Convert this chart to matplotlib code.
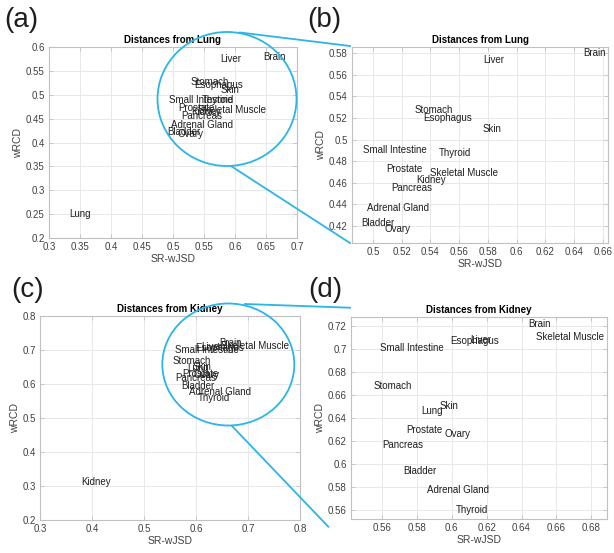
import numpy as np
import matplotlib
matplotlib.use('Agg')
import matplotlib.pyplot as plt
from matplotlib.patches import Ellipse
from matplotlib.lines import Line2D
from matplotlib.ticker import FormatStrFormatter

plt.rcParams['font.family'] = ['Liberation Sans', 'DejaVu Sans']

# distances from Lung
lung_tissues = ['Brain', 'Liver', 'Stomach', 'Esophagus', 'Skin', 'Small Intestine',
                'Thyroid', 'Prostate', 'Skeletal Muscle', 'Kidney', 'Pancreas',
                'Adrenal Gland', 'Bladder', 'Ovary', 'Lung']
lung_jsd = [0.646, 0.577, 0.529, 0.535, 0.576, 0.493, 0.546, 0.509, 0.540, 0.530,
            0.5125, 0.496, 0.4915, 0.508, 0.332]
lung_rcd = [0.580, 0.574, 0.527, 0.520, 0.510, 0.490, 0.488, 0.473, 0.469, 0.463,
            0.455, 0.437, 0.423, 0.417, 0.250]

# distances from Kidney
kid_tissues = ['Brain', 'Skeletal Muscle', 'Esophagus', 'Liver', 'Small Intestine',
               'Stomach', 'Skin', 'Lung', 'Prostate', 'Ovary', 'Pancreas', 'Bladder',
               'Adrenal Gland', 'Thyroid', 'Kidney']
kid_jsd = [0.644, 0.648, 0.599, 0.6105, 0.559, 0.555, 0.593, 0.5825, 0.574, 0.596,
           0.560, 0.572, 0.586, 0.6025, 0.380]
kid_rcd = [0.7215, 0.7105, 0.707, 0.708, 0.701, 0.668, 0.650, 0.646, 0.629, 0.626,
           0.6165, 0.594, 0.5775, 0.560, 0.312]

W, H = 614, 553
fig = plt.figure(figsize=(W / 100, H / 100), dpi=100)


def px_axes(left, top, right, bottom):
    return fig.add_axes([left / W, 1 - bottom / H, (right - left) / W, (bottom - top) / H])


def style(ax, title, xlim, ylim, xticks, yticks):
    ax.set_xlim(xlim)
    ax.set_ylim(ylim)
    ax.set_xticks(xticks)
    ax.set_yticks(yticks)
    ax.xaxis.set_major_formatter(FormatStrFormatter('%g'))
    ax.yaxis.set_major_formatter(FormatStrFormatter('%g'))
    ax.grid(True, color='#e8e8e8', lw=0.7)
    ax.set_axisbelow(True)
    for s in ax.spines.values():
        s.set_color('#c0c0c0')
        s.set_linewidth(0.8)
    ax.tick_params(direction='in', length=3, width=0.6, color='#c0c0c0',
                   labelsize=7, labelcolor='#404040', pad=3, top=True, right=True)
    ax.set_title(title, fontsize=7, fontweight='bold', pad=3)
    ax.set_xlabel('SR-wJSD', fontsize=7.5, color='#404040', labelpad=1)
    ax.set_ylabel('wRCD', fontsize=7.5, color='#404040', labelpad=2)


def labels(ax, names, xs, ys):
    # only the tissues that fall inside the (zoomed) view
    x0, x1 = ax.get_xlim()
    y0, y1 = ax.get_ylim()
    for n, x, y in zip(names, xs, ys):
        if x0 <= x <= x1 and y0 <= y <= y1:
            ax.text(x, y, n, fontsize=7, ha='left', va='center', color='#1e1e1e')


ax_a = px_axes(49, 47, 297, 238)
style(ax_a, 'Distances from Lung', (0.3, 0.7), (0.2, 0.6),
      np.arange(0.3, 0.701, 0.05), np.arange(0.2, 0.601, 0.05))
labels(ax_a, lung_tissues, lung_jsd, lung_rcd)

ax_b = px_axes(352, 47, 608, 243)
style(ax_b, 'Distances from Lung', (0.4854, 0.6635), (0.4043, 0.5856),
      np.arange(0.5, 0.661, 0.02), np.arange(0.42, 0.581, 0.02))
labels(ax_b, lung_tissues, lung_jsd, lung_rcd)

ax_c = px_axes(40, 316, 300, 520)
style(ax_c, 'Distances from Kidney', (0.3, 0.8), (0.2, 0.8),
      np.arange(0.3, 0.801, 0.1), np.arange(0.2, 0.801, 0.1))
labels(ax_c, kid_tissues, kid_jsd, kid_rcd)

ax_d = px_axes(351, 317, 607, 519)
style(ax_d, 'Distances from Kidney', (0.5422, 0.689), (0.5519, 0.7278),
      np.arange(0.56, 0.681, 0.02), np.arange(0.56, 0.721, 0.02))
labels(ax_d, kid_tissues, kid_jsd, kid_rcd)

# zoom markers
blue = '#2bb5e8'


def circ(cx, cy, rx, ry):
    fig.patches.append(Ellipse((cx / W, 1 - cy / H), 2 * rx / W, 2 * ry / H,
                               transform=fig.transFigure, fill=False,
                               edgecolor=blue, lw=1.3, zorder=10))


def seg(x0, y0, x1, y1):
    fig.lines.append(Line2D([x0 / W, x1 / W], [1 - y0 / H, 1 - y1 / H],
                            transform=fig.transFigure, color=blue, lw=1.3, zorder=10))


circ(227, 99, 69.5, 67)
seg(240, 32.5, 350, 46)
seg(231.7, 166.5, 350, 243)

circ(228.3, 364.5, 66, 61)
seg(245, 304, 350, 307.7)
seg(232, 426, 328.3, 526.7)

# panel letters
for lab, x, y in [('(a)', 4, 20), ('(b)', 307, 20), ('(c)', 11, 290), ('(d)', 308, 290)]:
    fig.text(x / W, 1 - y / H, lab, fontsize=20, ha='left', va='center', color='#1e1e1e')

fig.savefig('out.png', dpi=100)
